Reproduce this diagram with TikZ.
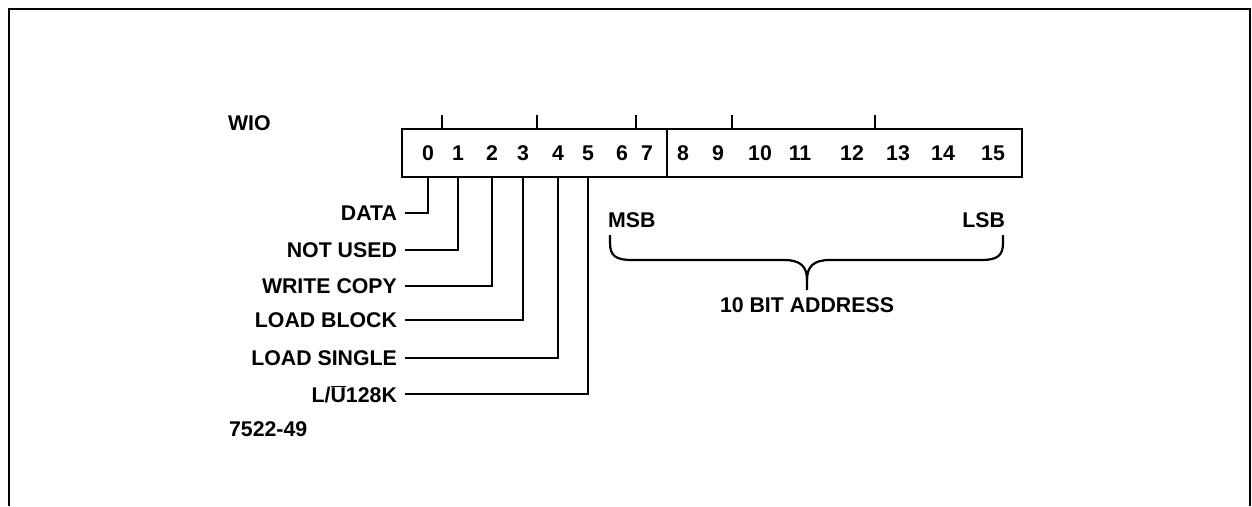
\documentclass[tikz,border=0pt]{standalone}
\usepackage{fontspec}
\setmainfont{Liberation Sans}
\usepackage{tikz}

\begin{document}
\begin{tikzpicture}[x=1pt, y=-1pt, line width=2.2pt,
		font=\fontsize{21.3}{25}\selectfont\bfseries,
		regbox/.style={draw, line width=2.6pt, minimum height=48pt, inner sep=0pt},
		bitnum/.style={inner sep=0pt},
		lbl/.style={anchor=east, inner xsep=7pt, inner ysep=0pt}]
		\useasboundingbox (0,0) rectangle (1252,506);
		% open frame round the figure
		\draw[line width=2.6pt] (9,506) -- (9,9) -- (1250,9) -- (1250,506);
		% WIO register, bits 0-7 and 8-15
		\node[anchor=west, inner sep=0pt] (wio) at (227,123) {WIO};
		\node[regbox, minimum width=265pt] (hi) at (534.5,153) {};
		\node[regbox, minimum width=355pt] (lo) at (844.5,153) {};
		\foreach \n/\x in {0/428,1/458,2/492,3/523,4/558,5/588,6/622,7/647,
			8/683,9/718,10/760,11/800,12/852,13/898,14/943,15/993}
			\node[bitnum] (b\n) at (\x,153) {\n};
		% marks above the register
		\foreach \x in {442,537,636}
			\draw (\x,115) -- (hi.north -| \x,0);
		\foreach \x in {732,875}
			\draw (\x,115) -- (lo.north -| \x,0);
		% control bits
		\node[lbl] (data) at (405,213) {DATA};
		\node[lbl] (unused) at (405,250) {NOT USED};
		\node[lbl] (wcopy) at (405,286) {WRITE COPY};
		\node[lbl] (lblock) at (405,320) {LOAD BLOCK};
		\node[lbl] (lsingle) at (405,358) {LOAD SINGLE};
		\node[lbl] (lu) at (405,394) {L/\ensuremath{\overline{\hbox{U}}}128K};
		\draw (data.east) -| (b0 |- hi.south);
		\draw (unused.east) -| (b1 |- hi.south);
		\draw (wcopy.east) -| (b2 |- hi.south);
		\draw (lblock.east) -| (b3 |- hi.south);
		\draw (lsingle.east) -| (b4 |- hi.south);
		\draw (lu.east) -| (b5 |- hi.south);
		\node[anchor=west, inner sep=0pt] (fig) at (228,429) {7522-49};
		% address field
		\node[anchor=west, inner sep=0pt] (msb) at (607,220) {MSB};
		\node[anchor=east, inner sep=0pt] (lsb) at (1006,220) {LSB};
		\coordinate (tip) at (807,290);
		\draw (610,235) -- (610,243) .. controls (610,256) and (616,260) .. (632,260)
			-- (784,260) .. controls (800,260) and (807,266) .. (807,280) -- (tip);
		\draw (1003,235) -- (1003,243) .. controls (1003,256) and (997,260) .. (981,260)
			-- (830,260) .. controls (814,260) and (807,266) .. (807,280);
		\node[inner sep=0pt] (addr) at (807,305) {10 BIT ADDRESS};
	\end{tikzpicture}
\end{document}
